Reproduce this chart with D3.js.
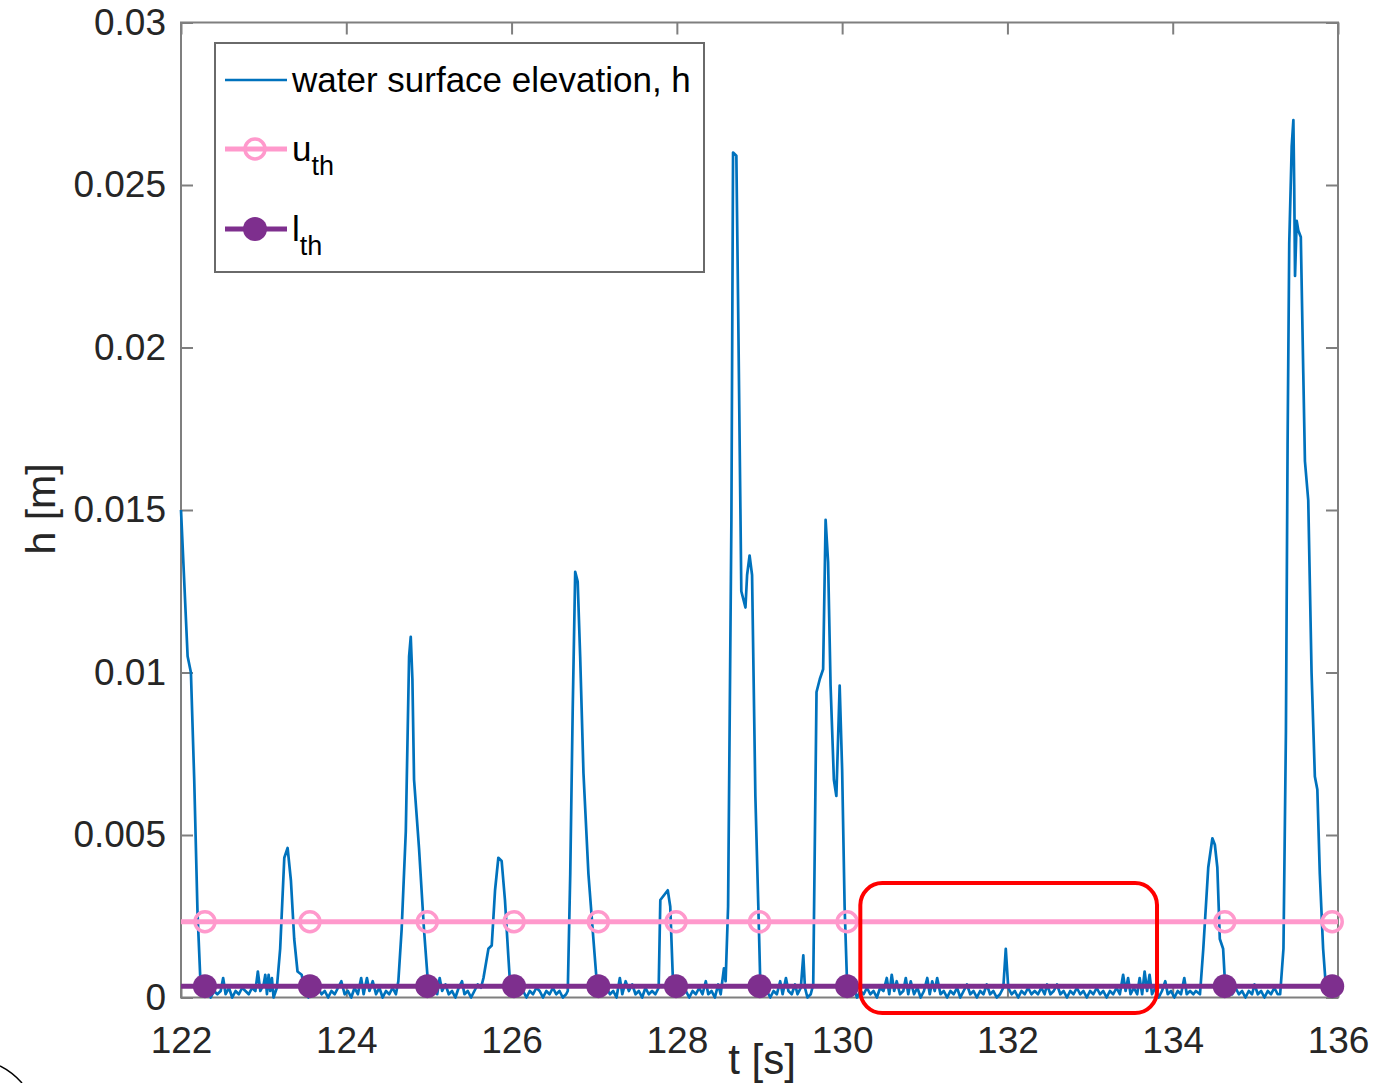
<!DOCTYPE html>
<html>
<head>
<meta charset="utf-8">
<script src="https://cdn.jsdelivr.net/npm/d3@7.9.0/dist/d3.min.js"></script>
<style>
  body { margin: 0; background: #fff; }
  svg { display: block; font-family: 'Liberation Sans', Arial, sans-serif; }
</style>
</head>
<body>
<svg id="chart" width="1392" height="1083"></svg>
<script>
// axis ticks
const xTicks = [122, 124, 126, 128, 130, 132, 134, 136];
const yTicks = [0, 0.005, 0.01, 0.015, 0.02, 0.025, 0.03];
const yTickLabels = ['0', '0.005', '0.01', '0.015', '0.02', '0.025', '0.03'];

// thresholds (m)
const upperThreshold = 0.00233;
const lowerThreshold = 0.00035;
const thresholdMarkerTimes = [122.29, 123.56, 124.98, 126.03, 127.05, 127.99, 129.00, 130.06, 134.63, 135.93];

// highlighted quiet interval (red box)
const highlightT = [130.22, 133.81];
const highlightH = [-0.00048, 0.00352];

// water surface elevation h [m] vs t [s]
const waterLevel = [
    [122.00, 0.0150], [122.08, 0.0105], [122.12, 0.0100], [122.16, 0.0067], [122.20, 0.0026], [122.24, 0.0002],
    [122.28, 0.0001], [122.32, 0.0003], [122.36, 0.0000], [122.40, 0.0002], [122.44, 0.0001], [122.48, 0.0002],
    [122.51, 0.0006], [122.54, 0.0001], [122.58, 0.0003], [122.62, 0.0000], [122.66, 0.0002], [122.70, 0.0001],
    [122.74, 0.0003], [122.78, 0.0002], [122.82, 0.0001], [122.86, 0.0003], [122.90, 0.0002], [122.93, 0.0008],
    [122.96, 0.0002], [123.00, 0.0004], [123.02, 0.0007], [123.04, 0.0001], [123.06, 0.0007], [123.08, 0.0002],
    [123.10, 0.0006], [123.12, 0.0000], [123.16, 0.0003],
    [123.20, 0.0015], [123.25, 0.0043], [123.29, 0.0046], [123.33, 0.0036], [123.37, 0.0018], [123.41, 0.0008],
    [123.46, 0.0007], [123.50, 0.0002],
    [123.54, 0.0000], [123.58, 0.0002], [123.62, 0.0001], [123.66, 0.0003], [123.70, 0.0001], [123.74, 0.0002],
    [123.78, 0.0000], [123.82, 0.0002], [123.86, 0.0001], [123.90, 0.0003], [123.94, 0.0005], [123.98, 0.0001],
    [124.02, 0.0002], [124.06, 0.0000], [124.10, 0.0003], [124.14, 0.0001], [124.18, 0.0006], [124.21, 0.0001],
    [124.25, 0.0006], [124.28, 0.0002], [124.32, 0.0005], [124.36, 0.0001], [124.40, 0.0003], [124.44, 0.0000],
    [124.48, 0.0002], [124.52, 0.0001], [124.56, 0.0003], [124.60, 0.0001],
    [124.63, 0.0005], [124.67, 0.0021], [124.72, 0.0051], [124.76, 0.0105], [124.78, 0.0111], [124.80, 0.0098],
    [124.82, 0.0067], [124.88, 0.0046], [124.94, 0.0021], [124.99, 0.0004],
    [125.03, 0.0002], [125.07, 0.0005], [125.10, 0.0001], [125.13, 0.0006], [125.16, 0.0002], [125.20, 0.0004],
    [125.24, 0.0001], [125.28, 0.0002], [125.32, 0.0000], [125.36, 0.0003], [125.40, 0.0005], [125.43, 0.0001],
    [125.47, 0.0002], [125.51, 0.0000], [125.55, 0.0002], [125.59, 0.0004], [125.63, 0.0003],
    [125.66, 0.0006], [125.72, 0.0015], [125.76, 0.0016], [125.80, 0.0033], [125.84, 0.0043], [125.88, 0.0042],
    [125.92, 0.0030], [125.96, 0.0013], [125.98, 0.0005],
    [126.02, 0.0001], [126.06, 0.0003], [126.10, 0.0001], [126.14, 0.0002], [126.18, 0.0000], [126.22, 0.0002],
    [126.26, 0.0001], [126.30, 0.0003], [126.34, 0.0002], [126.38, 0.0000], [126.42, 0.0002], [126.46, 0.0001],
    [126.50, 0.0003], [126.54, 0.0001], [126.58, 0.0002], [126.62, 0.0000], [126.66, 0.0001],
    [126.68, 0.0002], [126.71, 0.0038], [126.74, 0.0089], [126.77, 0.0131], [126.80, 0.0128], [126.83, 0.0105],
    [126.87, 0.0069], [126.93, 0.0038], [126.99, 0.0018], [127.03, 0.0005],
    [127.07, 0.0002], [127.11, 0.0001], [127.15, 0.0003], [127.19, 0.0001], [127.23, 0.0002], [127.27, 0.0000],
    [127.31, 0.0006], [127.34, 0.0001], [127.38, 0.0005], [127.42, 0.0002], [127.46, 0.0004], [127.50, 0.0001],
    [127.54, 0.0002], [127.58, 0.0000], [127.62, 0.0003], [127.66, 0.0001], [127.70, 0.0002], [127.74, 0.0001],
    [127.78, 0.0003], [127.80, 0.0030], [127.83, 0.0031], [127.86, 0.0032], [127.89, 0.0033], [127.92, 0.0028],
    [127.95, 0.0007],
    [127.99, 0.0001], [128.03, 0.0003], [128.07, 0.0001], [128.11, 0.0002], [128.15, 0.0000], [128.19, 0.0002],
    [128.23, 0.0001], [128.27, 0.0003], [128.31, 0.0001], [128.35, 0.0005], [128.38, 0.0001], [128.42, 0.0002],
    [128.46, 0.0000], [128.50, 0.0004], [128.53, 0.0001], [128.57, 0.0009], [128.59, 0.0005],
    [128.62, 0.0028], [128.66, 0.0147], [128.68, 0.0260], [128.72, 0.0259], [128.74, 0.0216], [128.78, 0.0125],
    [128.83, 0.0120], [128.85, 0.0130], [128.88, 0.0136], [128.91, 0.0130], [128.95, 0.0062], [128.99, 0.0024],
    [129.01, 0.0004],
    [129.05, 0.0001], [129.09, 0.0002], [129.13, 0.0000], [129.17, 0.0002], [129.21, 0.0001], [129.25, 0.0005],
    [129.28, 0.0001], [129.32, 0.0006], [129.35, 0.0002], [129.39, 0.0001], [129.43, 0.0004], [129.46, 0.0001],
    [129.50, 0.0003], [129.53, 0.0013], [129.55, 0.0003], [129.58, 0.0000], [129.62, 0.0001],
    [129.65, 0.0004], [129.69, 0.0094], [129.73, 0.0098], [129.77, 0.0101], [129.80, 0.0147], [129.83, 0.0134],
    [129.86, 0.0096], [129.90, 0.0067], [129.93, 0.0062], [129.95, 0.0079], [129.97, 0.0096], [130.00, 0.0070],
    [130.03, 0.0028], [130.06, 0.0004],
    [130.10, 0.0001], [130.14, 0.0003], [130.18, 0.0000], [130.22, 0.0002], [130.26, 0.0001], [130.30, 0.0003],
    [130.34, 0.0001], [130.38, 0.0002], [130.42, 0.0000], [130.46, 0.0003], [130.50, 0.0002], [130.54, 0.0006],
    [130.57, 0.0001], [130.60, 0.0007], [130.63, 0.0002], [130.66, 0.0005], [130.70, 0.0001], [130.74, 0.0002],
    [130.77, 0.0006], [130.80, 0.0001], [130.83, 0.0005], [130.87, 0.0001], [130.91, 0.0003], [130.95, 0.0000],
    [130.99, 0.0002], [131.03, 0.0006], [131.06, 0.0001], [131.09, 0.0005], [131.12, 0.0002], [131.15, 0.0006],
    [131.19, 0.0001], [131.23, 0.0002], [131.27, 0.0000], [131.31, 0.0002], [131.35, 0.0001], [131.39, 0.0003],
    [131.43, 0.0000], [131.47, 0.0002], [131.51, 0.0004], [131.55, 0.0001], [131.59, 0.0002], [131.63, 0.0000],
    [131.67, 0.0002], [131.71, 0.0001], [131.75, 0.0004], [131.79, 0.0001], [131.83, 0.0002], [131.87, 0.0000],
    [131.91, 0.0001], [131.95, 0.0003], [131.98, 0.0015], [132.01, 0.0003], [132.05, 0.0001], [132.09, 0.0002],
    [132.13, 0.0000], [132.17, 0.0002], [132.21, 0.0001], [132.25, 0.0003], [132.29, 0.0001], [132.33, 0.0002],
    [132.37, 0.0001], [132.41, 0.0003], [132.45, 0.0001], [132.48, 0.0004], [132.52, 0.0001], [132.56, 0.0002],
    [132.60, 0.0004], [132.64, 0.0001], [132.68, 0.0002], [132.72, 0.0000], [132.76, 0.0002], [132.80, 0.0001],
    [132.84, 0.0003], [132.88, 0.0001], [132.92, 0.0002], [132.96, 0.0000], [133.00, 0.0002], [133.04, 0.0001],
    [133.08, 0.0003], [133.12, 0.0001], [133.16, 0.0002], [133.20, 0.0000], [133.24, 0.0002], [133.28, 0.0001],
    [133.32, 0.0003], [133.36, 0.0001], [133.40, 0.0007], [133.43, 0.0002], [133.46, 0.0006], [133.49, 0.0001],
    [133.53, 0.0003], [133.57, 0.0001], [133.60, 0.0006], [133.63, 0.0001], [133.66, 0.0008], [133.69, 0.0002],
    [133.72, 0.0007], [133.75, 0.0001], [133.79, 0.0003], [133.83, 0.0000], [133.87, 0.0002], [133.91, 0.0005],
    [133.94, 0.0001], [133.98, 0.0002], [134.02, 0.0000], [134.06, 0.0002], [134.10, 0.0001], [134.14, 0.0006],
    [134.17, 0.0001], [134.21, 0.0002], [134.25, 0.0001], [134.28, 0.0002],
    [134.33, 0.0001], [134.37, 0.0015], [134.43, 0.0040], [134.48, 0.0049], [134.51, 0.0047], [134.54, 0.0040],
    [134.57, 0.0018], [134.61, 0.0015], [134.64, 0.0001],
    [134.68, 0.0002], [134.72, 0.0001], [134.76, 0.0003], [134.80, 0.0001], [134.84, 0.0002], [134.88, 0.0000],
    [134.92, 0.0002], [134.96, 0.0001], [134.99, 0.0004], [135.03, 0.0001], [135.07, 0.0002], [135.11, 0.0000],
    [135.15, 0.0002], [135.19, 0.0001], [135.23, 0.0003], [135.27, 0.0001],
    [135.30, 0.0001], [135.34, 0.0015], [135.37, 0.0082], [135.39, 0.0170], [135.41, 0.0232], [135.44, 0.0262],
    [135.46, 0.0270], [135.47, 0.0250], [135.48, 0.0222], [135.50, 0.0239], [135.52, 0.0236], [135.55, 0.0234],
    [135.58, 0.0192], [135.60, 0.0165], [135.64, 0.0153], [135.68, 0.0100], [135.72, 0.0068], [135.75, 0.0064],
    [135.78, 0.0038], [135.82, 0.0015], [135.86, 0.0001],
    [135.90, 0.0002], [135.94, 0.0001], [135.97, 0.0003], [136.00, 0.0002]
];

const width = 1392;
const height = 1083;
const plot = { left: 181, right: 1338, top: 22.5, bottom: 997.5 };

const axisGray = '#7f7f7f';
const textColor = '#262626';
const blue = '#0072bd';
const pink = '#ff99cc';
const purple = '#7e2f8e';

const svg = d3.select('#chart');
svg.append('rect').attr('width', width).attr('height', height).attr('fill', '#fff');

const xScale = d3.scaleLinear().domain([122, 136]).range([plot.left, plot.right]);
const yScale = d3.scaleLinear().domain([0, 0.03]).range([plot.bottom, plot.top]);

// axes (MATLAB style, ticks pointing inward on all four sides)
function styleAxis(g) {
    g.select('.domain').remove();
    g.selectAll('.tick line').attr('stroke', axisGray).attr('stroke-width', 2);
    g.selectAll('.tick text')
        .attr('fill', textColor)
        .style('font-size', '37px')
        .style('font-family', "'Liberation Sans', Arial, sans-serif");
}

svg.append('g')
    .attr('transform', `translate(0,${plot.bottom})`)
    .call(d3.axisBottom(xScale).tickValues(xTicks).tickSizeInner(-12).tickSizeOuter(0).tickPadding(29))
    .call(styleAxis);

svg.append('g')
    .attr('transform', `translate(0,${plot.top})`)
    .call(d3.axisTop(xScale).tickValues(xTicks).tickSizeInner(-12).tickSizeOuter(0).tickFormat(''))
    .call(styleAxis);

svg.append('g')
    .attr('transform', `translate(${plot.left},0)`)
    .call(d3.axisLeft(yScale).tickValues(yTicks).tickSizeInner(-12).tickSizeOuter(0).tickPadding(15)
        .tickFormat((d, i) => yTickLabels[i]))
    .call(styleAxis);

svg.append('g')
    .attr('transform', `translate(${plot.right},0)`)
    .call(d3.axisRight(yScale).tickValues(yTicks).tickSizeInner(-12).tickSizeOuter(0).tickFormat(''))
    .call(styleAxis);

// frame
svg.append('rect')
    .attr('x', plot.left)
    .attr('y', plot.top)
    .attr('width', plot.right - plot.left)
    .attr('height', plot.bottom - plot.top)
    .attr('fill', 'none')
    .attr('stroke', axisGray)
    .attr('stroke-width', 2);

// water surface elevation
const line = d3.line().x(d => xScale(d[0])).y(d => yScale(d[1]));
svg.append('path')
    .datum(waterLevel)
    .attr('d', line)
    .attr('fill', 'none')
    .attr('stroke', blue)
    .attr('stroke-width', 2.7)
    .attr('stroke-linejoin', 'round');

// upper threshold
svg.append('line')
    .attr('x1', xScale(122)).attr('x2', xScale(136))
    .attr('y1', yScale(upperThreshold)).attr('y2', yScale(upperThreshold))
    .attr('stroke', pink).attr('stroke-width', 5);
svg.append('g').selectAll('circle')
    .data(thresholdMarkerTimes)
    .join('circle')
    .attr('cx', d => xScale(d))
    .attr('cy', yScale(upperThreshold))
    .attr('r', 10)
    .attr('fill', 'none')
    .attr('stroke', pink)
    .attr('stroke-width', 3.5);

// lower threshold
svg.append('line')
    .attr('x1', xScale(122)).attr('x2', xScale(136))
    .attr('y1', yScale(lowerThreshold)).attr('y2', yScale(lowerThreshold))
    .attr('stroke', purple).attr('stroke-width', 5);
svg.append('g').selectAll('circle')
    .data(thresholdMarkerTimes)
    .join('circle')
    .attr('cx', d => xScale(d))
    .attr('cy', yScale(lowerThreshold))
    .attr('r', 12)
    .attr('fill', purple);

// red highlight box
svg.append('rect')
    .attr('x', xScale(highlightT[0]))
    .attr('y', yScale(highlightH[1]))
    .attr('width', xScale(highlightT[1]) - xScale(highlightT[0]))
    .attr('height', yScale(highlightH[0]) - yScale(highlightH[1]))
    .attr('rx', 22)
    .attr('fill', 'none')
    .attr('stroke', '#ff0000')
    .attr('stroke-width', 4);

// axis labels
svg.append('text')
    .attr('transform', 'translate(55,509) rotate(-90)')
    .attr('text-anchor', 'middle')
    .attr('fill', textColor)
    .style('font-size', '41px')
    .text('h [m]');

svg.append('text')
    .attr('x', 762)
    .attr('y', 1074)
    .attr('text-anchor', 'middle')
    .attr('fill', textColor)
    .style('font-size', '42px')
    .text('t [s]');

// legend
const legend = svg.append('g');
legend.append('rect')
    .attr('x', 215).attr('y', 43)
    .attr('width', 489).attr('height', 229)
    .attr('fill', '#fff')
    .attr('stroke', '#6a6a6a')
    .attr('stroke-width', 2);

const legendItems = [
    { label: 'water surface elevation, h', sub: null, color: blue, width: 2.5, marker: null, y: 80 },
    { label: 'u', sub: 'th', color: pink, width: 5, marker: 'open', y: 149 },
    { label: 'l', sub: 'th', color: purple, width: 5, marker: 'filled', y: 229 }
];

legendItems.forEach(item => {
    legend.append('line')
        .attr('x1', 225).attr('x2', 287)
        .attr('y1', item.y).attr('y2', item.y)
        .attr('stroke', item.color)
        .attr('stroke-width', item.width);
    if (item.marker === 'open') {
        legend.append('circle')
            .attr('cx', 255).attr('cy', item.y).attr('r', 10)
            .attr('fill', 'none').attr('stroke', item.color).attr('stroke-width', 3.5);
    } else if (item.marker === 'filled') {
        legend.append('circle')
            .attr('cx', 255).attr('cy', item.y).attr('r', 12)
            .attr('fill', item.color);
    }
    const t = legend.append('text')
        .attr('x', 292)
        .attr('y', item.y + 12)
        .attr('fill', '#000')
        .style('font-size', '35px');
    t.append('tspan').text(item.label);
    if (item.sub) {
        t.append('tspan')
            .attr('dy', 14)
            .style('font-size', '27px')
            .text(item.sub);
    }
});

// stray stroke in the lower-left corner of the original figure
svg.append('path')
    .attr('d', 'M0,1066 Q12,1072 22,1083')
    .attr('fill', 'none')
    .attr('stroke', '#000')
    .attr('stroke-width', 1.5);
</script>
</body>
</html>
